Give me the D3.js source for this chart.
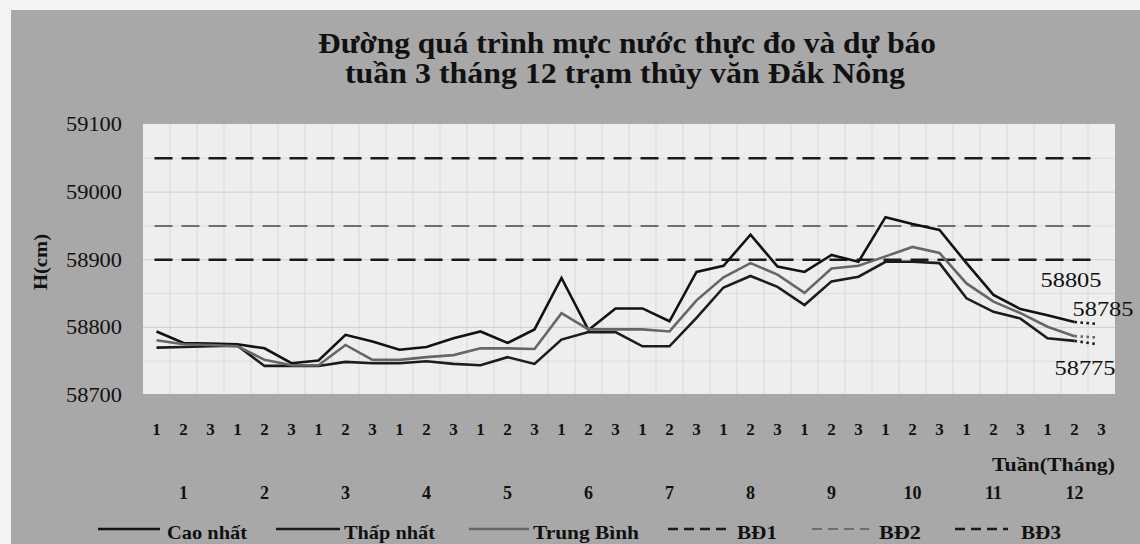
<!DOCTYPE html>
<html>
<head>
<meta charset="utf-8">
<script src="https://cdn.jsdelivr.net/npm/d3@7"></script>
<style>
  body { margin: 0; background: #f4f4f4; }
  text { font-family: "Liberation Serif", "Times New Roman", serif; fill: #111; }
</style>
</head>
<body>
<div id="chart"></div>
<script>
// tick labels
var weeks = [];
for (var m = 0; m < 12; m++) { weeks.push("1", "2", "3"); }
var months = ["1","2","3","4","5","6","7","8","9","10","11","12"];

// water level (cm); last value of each series is the forecast
var caoNhat = [58794, 58777, 58776, 58775, 58769, 58747, 58751, 58789, 58779, 58767,
               58771, 58784, 58794, 58777, 58797, 58873, 58796, 58828, 58828, 58809,
               58882, 58891, 58937, 58890, 58882, 58907, 58897, 58963, 58953, 58944,
               58895, 58848, 58827, 58818, 58808, 58805];
var thapNhat = [58770, 58771, 58772, 58773, 58743, 58743, 58743, 58749, 58747, 58747,
                58750, 58746, 58744, 58756, 58746, 58782, 58793, 58793, 58772, 58772,
                58814, 58859, 58876, 58860, 58833, 58868, 58875, 58897, 58897, 58895,
                58843, 58823, 58813, 58784, 58780, 58775];
var trungBinh = [58781, 58775, 58774, 58772, 58752, 58744, 58744, 58774, 58752, 58752,
                 58756, 58759, 58769, 58769, 58768, 58821, 58797, 58797, 58797, 58794,
                 58840, 58874, 58895, 58878, 58851, 58887, 58891, 58905, 58919, 58910,
                 58865, 58838, 58821, 58801, 58787, 58785];

// alarm levels
var bdNames = ["BĐ1", "BĐ2", "BĐ3"];
var bdValues = [58900, 58950, 59050];

var width = 1140, height = 544;
var plotLeft = 143, plotRight = 1115, plotTop = 124, plotBottom = 394;

var svg = d3.select("#chart")
    .append("svg")
    .attr("width", width)
    .attr("height", height);

svg.append("rect")
    .attr("x", 11).attr("y", 10)
    .attr("width", width - 11).attr("height", height - 10)
    .attr("fill", "#a8a8a8");

svg.append("rect")
    .attr("x", plotLeft).attr("y", plotTop)
    .attr("width", plotRight - plotLeft).attr("height", plotBottom - plotTop)
    .attr("fill", "#eeeeee");

var x = d3.scaleBand().domain(d3.range(weeks.length)).range([plotLeft, plotRight]);
var xm = d3.scaleBand().domain(months).range([plotLeft, plotRight]);
var y = d3.scaleLinear().domain([58700, 59100]).range([395, 124.5]);
var cx = function(i) { return x(i) + x.bandwidth() / 2; };

// faint grid
svg.append("g").selectAll("line")
    .data(d3.range(1, weeks.length))
    .enter().append("line")
    .attr("x1", function(d) { return x(d); })
    .attr("x2", function(d) { return x(d); })
    .attr("y1", plotTop).attr("y2", plotBottom)
    .attr("stroke", "#d8d8d8").attr("stroke-width", 1);

svg.append("g").selectAll("line")
    .data(y.ticks(8).slice(1, -1))
    .enter().append("line")
    .attr("x1", plotLeft).attr("x2", plotRight)
    .attr("y1", function(d) { return y(d); })
    .attr("y2", function(d) { return y(d); })
    .attr("stroke", function(d) { return d % 100 === 0 ? "#cfcfcf" : "#dcdcdc"; })
    .attr("stroke-width", 1);

// title
svg.append("text")
    .attr("x", 627).attr("y", 53)
    .attr("text-anchor", "middle")
    .attr("font-size", 30).attr("font-weight", "bold")
    .attr("textLength", 618).attr("lengthAdjust", "spacingAndGlyphs")
    .text("Đường quá trình mực nước thực đo và dự báo");
svg.append("text")
    .attr("x", 625).attr("y", 83)
    .attr("text-anchor", "middle")
    .attr("font-size", 30).attr("font-weight", "bold")
    .attr("textLength", 560).attr("lengthAdjust", "spacingAndGlyphs")
    .text("tuần 3 tháng 12 trạm thủy văn Đắk Nông");

// y axis
var yAxis = svg.append("g")
    .attr("transform", "translate(" + plotLeft + ",0)")
    .call(d3.axisLeft(y).ticks(4).tickSize(0).tickPadding(21).tickFormat(d3.format("d")));
yAxis.select(".domain").remove();
yAxis.selectAll("text")
    .attr("font-family", "Liberation Serif")
    .attr("font-size", 20)
    .attr("fill", "#111")
    .attr("textLength", 56).attr("lengthAdjust", "spacingAndGlyphs");

svg.append("text")
    .attr("transform", "translate(47,262) rotate(-90)")
    .attr("text-anchor", "middle")
    .attr("font-size", 18).attr("font-weight", "bold")
    .attr("textLength", 56).attr("lengthAdjust", "spacingAndGlyphs")
    .text("H(cm)");

// x axis: weeks then months
var wAxis = svg.append("g")
    .attr("transform", "translate(0," + plotBottom + ")")
    .call(d3.axisBottom(x).tickSize(0).tickPadding(29).tickFormat(function(i) { return weeks[i]; }));
wAxis.select(".domain").remove();
wAxis.selectAll("text")
    .attr("font-family", "Liberation Serif")
    .attr("font-size", 17).attr("font-weight", "bold").attr("fill", "#111");

var mAxis = svg.append("g")
    .attr("transform", "translate(0," + plotBottom + ")")
    .call(d3.axisBottom(xm).tickSize(0).tickPadding(92));
mAxis.select(".domain").remove();
mAxis.selectAll("text")
    .attr("font-family", "Liberation Serif")
    .attr("font-size", 18).attr("font-weight", "bold").attr("fill", "#111");

svg.append("text")
    .attr("x", plotRight).attr("y", 471)
    .attr("text-anchor", "end")
    .attr("font-size", 18).attr("font-weight", "bold")
    .attr("textLength", 123).attr("lengthAdjust", "spacingAndGlyphs")
    .text("Tuần(Tháng)");

// alarm lines
var bdColor = ["#1a1a1a", "#6e6e6e", "#1a1a1a"];
var bdWidth = [2.6, 2, 2.6];
svg.append("g").selectAll("line")
    .data(bdValues)
    .enter().append("line")
    .attr("x1", cx(0) - 2).attr("x2", cx(weeks.length - 1) - 4)
    .attr("y1", function(d) { return y(d); })
    .attr("y2", function(d) { return y(d); })
    .attr("stroke", function(d, i) { return bdColor[i]; })
    .attr("stroke-width", function(d, i) { return bdWidth[i]; })
    .attr("stroke-dasharray", "18,9");

// series
var series = [
    { name: "Cao nhất", values: caoNhat, color: "#121212", shift: [0, -37] },
    { name: "Thấp nhất", values: thapNhat, color: "#1c1c1c", shift: [14, 31] },
    { name: "Trung Bình", values: trungBinh, color: "#666666", shift: [32, -22] }
];

var line = d3.line()
    .x(function(d, i) { return cx(i); })
    .y(function(d) { return y(d); });

var last = weeks.length - 1;
series.forEach(function(s) {
    svg.append("path")
        .attr("d", line(s.values.slice(0, last)))
        .attr("fill", "none")
        .attr("stroke", s.color)
        .attr("stroke-width", 2.6)
        .attr("stroke-linejoin", "miter");
    svg.append("line")
        .attr("x1", cx(last - 1)).attr("y1", y(s.values[last - 1]))
        .attr("x2", cx(last) - 4).attr("y2", y(s.values[last]))
        .attr("stroke", s.color)
        .attr("stroke-width", 2.6)
        .attr("stroke-dasharray", "2.5,3.5");
    // forecast label
    svg.append("text")
        .attr("x", cx(last) + s.shift[0])
        .attr("y", y(s.values[last]) + s.shift[1])
        .attr("text-anchor", "end")
        .attr("font-size", 22)
        .attr("textLength", 61).attr("lengthAdjust", "spacingAndGlyphs")
        .text(s.values[last]);
});

// legend
var legend = [
    { name: "Cao nhất", x1: 98, x2: 160, tx: 167, tw: 80, color: "#121212", dash: null, w: 2.6 },
    { name: "Thấp nhất", x1: 276, x2: 340, tx: 344, tw: 91, color: "#1c1c1c", dash: null, w: 2.6 },
    { name: "Trung Bình", x1: 469, x2: 529, tx: 533, tw: 106, color: "#666666", dash: null, w: 2.6 },
    { name: bdNames[0], x1: 668, x2: 727, tx: 737, tw: 40, color: bdColor[0], dash: "10,6", w: 2.6 },
    { name: bdNames[1], x1: 812, x2: 869, tx: 879, tw: 42, color: bdColor[1], dash: "10,6", w: 2 },
    { name: bdNames[2], x1: 955, x2: 1008, tx: 1021, tw: 40, color: bdColor[2], dash: "10,6", w: 2.6 }
];
var lg = svg.append("g").selectAll("g")
    .data(legend)
    .enter().append("g");
lg.append("line")
    .attr("x1", function(d) { return d.x1; })
    .attr("x2", function(d) { return d.x2; })
    .attr("y1", 529).attr("y2", 529)
    .attr("stroke", function(d) { return d.color; })
    .attr("stroke-width", function(d) { return d.w; })
    .attr("stroke-dasharray", function(d) { return d.dash; });
lg.append("text")
    .attr("x", function(d) { return d.tx; })
    .attr("y", 539)
    .attr("font-size", 19).attr("font-weight", "bold")
    .attr("textLength", function(d) { return d.tw; })
    .attr("lengthAdjust", "spacingAndGlyphs")
    .text(function(d) { return d.name; });
</script>
</body>
</html>
